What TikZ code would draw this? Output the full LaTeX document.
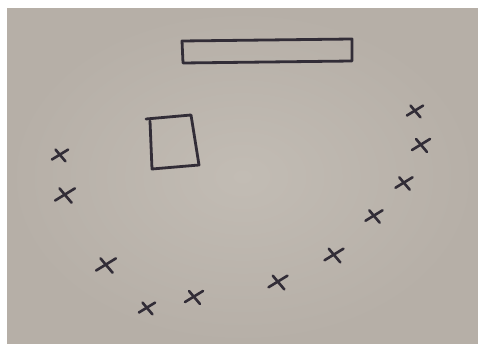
\documentclass[tikz,border=0pt]{standalone}
\definecolor{paperlight}{RGB}{194,188,180}
\definecolor{paperdark}{RGB}{182,175,167}
\definecolor{ink}{RGB}{50,45,55}
\begin{document}
\begin{tikzpicture}[x=1pt,y=-1pt,
    pen/.style={draw=ink,line width=2.8pt,line cap=round,line join=round}]

\useasboundingbox (0,0) rectangle (478,344);

% Paper (photo) with white margin
\fill[white] (0,0) rectangle (478,344);
\shade[inner color=paperlight,outer color=paperdark] (7,9) rectangle (478,344);

% Long bar at the top
\draw[pen] (182,41) -- (352,39) -- (352,61) -- (183,63) -- cycle;

% Small box
\draw[pen] (146,119) -- (191,115) -- (199,165) -- (152,169) -- (150,121);

% Crosses round the bottom
\foreach \cx/\cy/\k in {60/155/0.9, 65/195/1.1, 106/265/1.1, 147/308/0.9,
                        194/297/1.0, 278/282/1.05, 334/255/1.05, 374/216/0.95,
                        404/183/0.95, 421/145/1.0, 415/111/0.9} {
    \draw[pen,line width=2.6pt] ({\cx-9*\k},{\cy+5*\k}) -- ({\cx+9*\k},{\cy-6*\k});
    \draw[pen,line width=2.6pt] ({\cx-5*\k},{\cy-6*\k}) -- ({\cx+6*\k},{\cy+7*\k});
}
\end{tikzpicture}
\end{document}
